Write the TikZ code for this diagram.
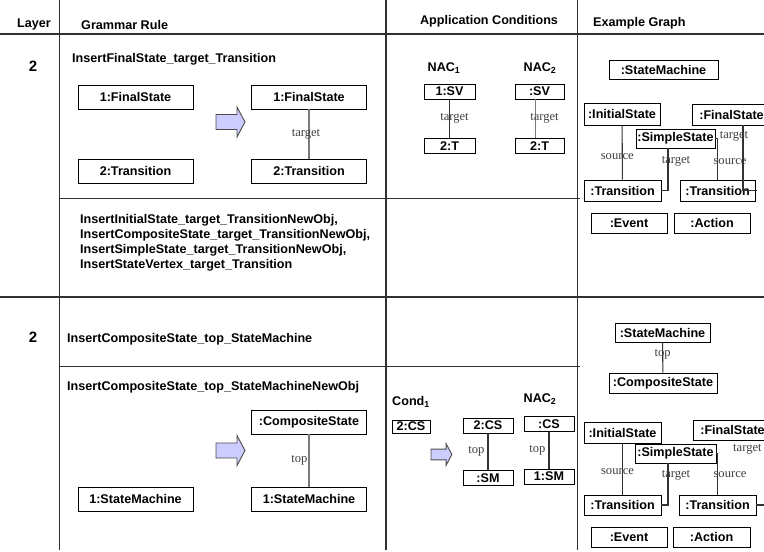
\documentclass[tikz,border=0pt]{standalone}
\usepackage{fontspec}
\setmainfont{Liberation Sans}
\newfontfamily\labelserif{Liberation Serif}
\definecolor{RuleArrow}{HTML}{CCCCFF}
\definecolor{EdgeGray}{HTML}{7A7A7A}
\definecolor{LineGray}{HTML}{303030}

% block arrow between left and right side of a rule
\newcommand{\rulearrow}[3]{%
  \draw[blockarrow, shift={(#1,#2)}, scale=#3]
    (0,-7.5) -- (21,-7.5) -- (21,-15) -- (29,0) -- (21,15) -- (21,7.5) -- (0,7.5) -- cycle;}

\begin{document}
\begin{tikzpicture}[
    x=1bp, y=-1bp,
    font=\bfseries\fontsize{12.6bp}{15bp}\selectfont,
    % object boxes
    obj/.style={draw, line width=0.9bp, inner sep=0pt},
    rulebox/.style={obj, minimum width=115bp, minimum height=24bp},
    condbox/.style={obj, minimum width=50bp, minimum height=15bp},
    graphbox/.style={obj, minimum height=20bp},
    % links and their labels
    link/.style={draw=EdgeGray, line width=1.2bp},
    glink/.style={draw=black!80, line width=1.1bp},
    linklabel/.style={font=\labelserif\fontsize{12.6bp}{14bp}\selectfont, text=black!75, inner sep=0pt},
    title/.style={anchor=west, inner sep=0pt},
    tableline/.style={LineGray, line width=1.1bp},
    blockarrow/.style={draw=black!70, fill=RuleArrow, line width=0.9bp}
]

    \useasboundingbox (0,0) rectangle (764,552);
    \clip (0,0) rectangle (764,552);

    % --- 1. table ---
    \foreach \x in {59.5, 386, 577.5} {
        \draw[tableline] (\x,0) -- (\x,550);
    }
    \foreach \y/\from/\to in {34/0/764, 198.5/59.5/580, 297/0/764, 366.5/59.5/580} {
        \draw[tableline] (\from,\y) -- (\to,\y);
    }

    % --- 2. header ---
    \node (hLayer) at (34,24) {Layer};
    \node[title] (hRule) at (81,25) {Grammar Rule};
    \node (hCond) at (489,21) {Application Conditions};
    \node[title] (hGraph) at (593,23) {Example Graph};

    \foreach \y/\n in {66/one, 337/two} {
        \node[font=\bfseries\fontsize{15bp}{18bp}\selectfont] (layer\n) at (33,\y) {2};
    }

    % --- 3. grammar rules ---
    \node[title] (ruleA) at (72,59) {InsertFinalState\_target\_Transition};
    \node[title, align=left] (ruleB) at (80,243) {InsertInitialState\_target\_TransitionNewObj,\\
        InsertCompositeState\_target\_TransitionNewObj,\\
        InsertSimpleState\_target\_TransitionNewObj,\\
        InsertStateVertex\_target\_Transition};
    \node[title] (ruleC) at (67,339) {InsertCompositeState\_top\_StateMachine};
    \node[title] (ruleD) at (67,387) {InsertCompositeState\_top\_StateMachineNewObj};

    % first rule
    \node[rulebox] (fsL) at (135.5,97) {1:FinalState};
    \node[rulebox] (trL) at (135.5,171) {2:Transition};
    \node[rulebox] (fsR) at (309,97) {1:FinalState};
    \node[rulebox] (trR) at (309,171) {2:Transition};
    \draw[link] (fsR) -- node[linklabel, xshift=-3bp] {target} (trR);
    \rulearrow{216}{122}{1}

    % second rule
    \node[rulebox] (smL) at (135.5,499) {1:StateMachine};
    \node[rulebox] (csR) at (309,422) {:CompositeState};
    \node[rulebox] (smR) at (309,499) {1:StateMachine};
    \draw[link] (csR) -- node[linklabel, left=1bp] {top} (smR);
    \rulearrow{216}{450.5}{1}

    % --- 4. application conditions ---
    \node (nacA) at (444,68) {NAC\textsubscript{1}};
    \node (nacB) at (540,68) {NAC\textsubscript{2}};
    \node[condbox, minimum width=51bp] (svA) at (449.5,91.5) {1:SV};
    \node[condbox, minimum width=51bp] (tA) at (449.5,146) {2:T};
    \node[condbox, minimum width=49bp] (svB) at (539.5,91.5) {:SV};
    \node[condbox, minimum width=49bp] (tB) at (539.5,146) {2:T};
    \draw[glink] (svA) -- node[linklabel, xshift=5bp] {target} (tA);
    \draw[link] ([xshift=-4bp]svB.south) -- node[linklabel, xshift=9bp] {target} ([xshift=-4bp]tB.north);

    \node (condC) at (411,402) {Cond\textsubscript{1}};
    \node[condbox, minimum width=38bp, minimum height=13bp] (csC) at (411,426.5) {2:CS};
    \rulearrow{431}{454.5}{0.72}
    \node[condbox] (csD) at (488,425.5) {2:CS};
    \node[condbox] (smD) at (488,478) {:SM};
    \draw[glink] (csD) -- node[linklabel, left=3bp] {top} (smD);
    \node (nacE) at (540,399) {NAC\textsubscript{2}};
    \node[condbox] (csE) at (549,424) {:CS};
    \node[condbox] (smE) at (549,476.5) {1:SM};
    \draw[glink] (csE) -- node[linklabel, left=3bp] {top} (smE);

    % --- 5. example graphs ---
    \node[graphbox, minimum width=109bp, minimum height=19bp] (gSM) at (663.5,69.5) {:StateMachine};
    \node[graphbox, minimum width=76bp, minimum height=22bp] (gIS) at (622,114) {:InitialState};
    \node[graphbox, minimum width=79bp, minimum height=21bp] (gFS) at (731.5,114.5) {:FinalState};
    \node[graphbox, minimum width=79bp, minimum height=19bp] (gSS) at (675.5,138.5) {:SimpleState};
    \node[graphbox, minimum width=77bp, minimum height=21bp] (gTa) at (622.5,190.5) {:Transition};
    \node[graphbox, minimum width=75bp, minimum height=21bp] (gTb) at (717.5,190.5) {:Transition};
    \node[graphbox, minimum width=76bp] (gEv) at (629,223) {:Event};
    \node[graphbox, minimum width=76bp] (gAc) at (712,223) {:Action};
    \draw[glink] (gIS) -- node[linklabel, pos=0.58, xshift=-5bp] {source} (gTa);
    \draw[glink] ([xshift=-7.5bp]gSS.south) |- node[linklabel, pos=0.15, xshift=8bp] {target} (gTa.east);
    \draw[glink] (gSS.east) -| node[linklabel, pos=0.78, xshift=12.5bp] {source} (gTb.north);
    \draw[glink] ([xshift=11.5bp]gFS.south) |- node[linklabel, pos=0.085, xshift=-9bp] {target} ([xshift=2bp]gTb.east);

    \node[graphbox, minimum width=95bp, minimum height=19bp] (hSM) at (662.5,332.5) {:StateMachine};
    \node[graphbox, minimum width=108bp] (hCS) at (663,383) {:CompositeState};
    \draw[glink] (hSM) -- node[linklabel, pos=0.38] {top} (hCS);
    \node[graphbox, minimum width=77bp, minimum height=21bp] (hIS) at (622.5,432.5) {:InitialState};
    \node[graphbox, minimum width=79bp] (hFS) at (732.5,430) {:FinalState};
    \node[graphbox, minimum width=81bp, minimum height=19bp] (hSS) at (675.5,453.5) {:SimpleState};
    \node[graphbox, minimum width=77bp] (hTa) at (622.5,505) {:Transition};
    \node[graphbox, minimum width=77bp] (hTb) at (717.5,505) {:Transition};
    \node[graphbox, minimum width=76bp] (hEv) at (629,537) {:Event};
    \node[graphbox, minimum width=77bp] (hAc) at (711.5,537) {:Action};
    \draw[glink] (hIS) -- node[linklabel, pos=0.56, xshift=-5bp] {source} (hTa);
    \draw[glink] ([xshift=-7.5bp]hSS.south) |- node[linklabel, pos=0.14, xshift=8bp] {target} (hTa.east);
    \draw[glink] (hSS.east) -| node[linklabel, pos=0.76, xshift=12.5bp] {source} (hTb.north);
    \draw[glink] (hTb.east) -| node[linklabel, pos=0.873, xshift=-23bp] {target} ([xshift=-2bp]hFS.east);

\end{tikzpicture}
\end{document}
